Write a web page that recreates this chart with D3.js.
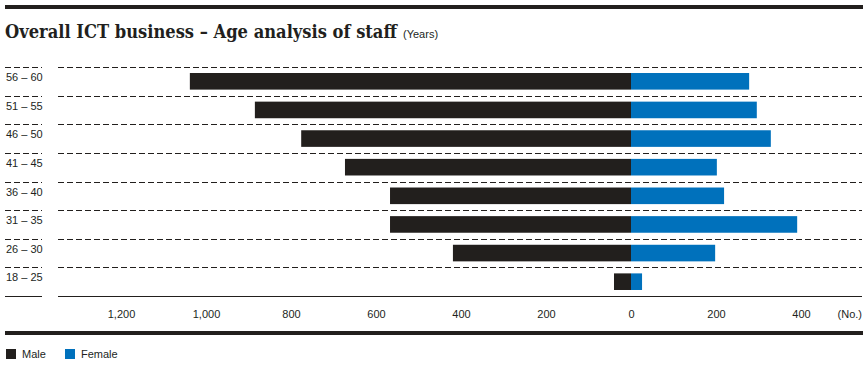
<!DOCTYPE html>
<html><head><meta charset="utf-8">
<script src="https://cdn.jsdelivr.net/npm/d3@7"></script>
<style>
html,body{margin:0;padding:0;background:#fff;}
svg{display:block;}
</style></head>
<body>
<script>
const categories = ["56 – 60","51 – 55","46 – 50","41 – 45","36 – 40","31 – 35","26 – 30","18 – 25"];
const maleValues = [1038, 885, 776, 673, 567, 567, 419, 40];
const femaleValues = [278, 296, 329, 202, 219, 391, 198, 26];
const tickValues = [-1200, -1000, -800, -600, -400, -200, 0, 200, 400];
const seriesNames = ["Male", "Female"];
const colors = {Male: "#221f1d", Female: "#0071bc"};

const W = 868, H = 365;
const svg = d3.select("body").append("svg").attr("width", W).attr("height", H);

// top thick rule
svg.append("rect").attr("x", 5).attr("y", 5).attr("width", 858).attr("height", 4).attr("fill", "#221f1d");

// title (horizontally condensed to match reference width)
const titleText = svg.append("text").attr("x", 0).attr("y", 0)
  .attr("font-family", "'DejaVu Serif', serif").attr("font-weight", "bold")
  .attr("font-size", 19).attr("fill", "#221f1d")
  .text("Overall ICT business – Age analysis of staff");
const natW = titleText.node().getComputedTextLength();
const sx = 392 / natW;
titleText.attr("transform", `translate(5,38) scale(${sx},1)`);
svg.append("text").attr("x", 403).attr("y", 38)
  .attr("font-family", "'Liberation Sans', Arial, sans-serif")
  .attr("font-size", 11).attr("fill", "#221f1d").text("(Years)");

const x = d3.scaleLinear().domain([-1200, 400]).range([121, 801]);
const rowTop = 67, rowBottom = 296;
const y = d3.scaleBand().domain(categories).range([rowTop, rowBottom])
  .paddingInner(0.42).paddingOuter(0.21);
const step = y.step();

// row dashed lines
categories.forEach((c, i) => {
  const yy = Math.round(rowTop + i * step) + 0.5;
  svg.append("line").attr("x1", 5).attr("x2", 42).attr("y1", yy).attr("y2", yy)
    .attr("stroke", "#221f1d").attr("stroke-width", 1).attr("stroke-dasharray", "6,3");
  svg.append("line").attr("x1", 58).attr("x2", 862).attr("y1", yy).attr("y2", yy)
    .attr("stroke", "#221f1d").attr("stroke-width", 1).attr("stroke-dasharray", "6,3");
});
// bottom solid rules (left label segment and plot segment)
svg.append("rect").attr("x", 5).attr("y", rowBottom).attr("width", 37).attr("height", 1)
  .attr("fill", "#221f1d");
svg.append("rect").attr("x", 58).attr("y", rowBottom).attr("width", 804).attr("height", 1)
  .attr("fill", "#221f1d");

// bars
svg.append("g").selectAll("rect").data(categories.map((c, i) => ({c, v: maleValues[i]})))
  .join("rect")
  .attr("x", d => x(-d.v)).attr("width", d => x(0) - x(-d.v))
  .attr("y", d => y(d.c)).attr("height", y.bandwidth())
  .attr("fill", colors.Male);
svg.append("g").selectAll("rect").data(categories.map((c, i) => ({c, v: femaleValues[i]})))
  .join("rect")
  .attr("x", x(0)).attr("width", d => x(d.v) - x(0))
  .attr("y", d => y(d.c)).attr("height", y.bandwidth())
  .attr("fill", colors.Female);

// category labels (sit near the top of each row)
svg.append("g").selectAll("text").data(categories).join("text")
  .attr("x", 6).attr("y", d => y(d) - y.step() * 0.21 + 14)
  .attr("font-family", "'Liberation Sans', Arial, sans-serif").attr("font-size", 11)
  .attr("fill", "#221f1d").text(d => d);

// x axis
const fmt = d3.format(",");
const axis = svg.append("g").attr("transform", `translate(0,${rowBottom + 11})`)
  .call(d3.axisBottom(x).tickValues(tickValues).tickSize(0).tickFormat(d => fmt(Math.abs(d))));
axis.select(".domain").remove();
axis.selectAll("text").attr("font-family", "'Liberation Sans Narrow', 'Liberation Sans', Arial, sans-serif")
  .attr("font-size", 11).attr("fill", "#221f1d");
svg.append("text").attr("x", 862).attr("y", 318).attr("text-anchor", "end")
  .attr("font-family", "'Liberation Sans Narrow', 'Liberation Sans', Arial, sans-serif")
  .attr("font-size", 11).attr("fill", "#221f1d").text("(No.)");

// bottom thick rule
svg.append("rect").attr("x", 5).attr("y", 331).attr("width", 858).attr("height", 4).attr("fill", "#221f1d");

// legend
const leg = svg.append("g");
const legX = [6, 65];
seriesNames.forEach((s, i) => {
  leg.append("rect").attr("x", legX[i]).attr("y", 349).attr("width", 10).attr("height", 10).attr("fill", colors[s]);
  leg.append("text").attr("x", legX[i] + 16).attr("y", 358)
    .attr("font-family", "'Liberation Sans Narrow', 'Liberation Sans', Arial, sans-serif")
    .attr("font-size", 11).attr("fill", "#221f1d").text(s);
});
</script>
</body></html>
